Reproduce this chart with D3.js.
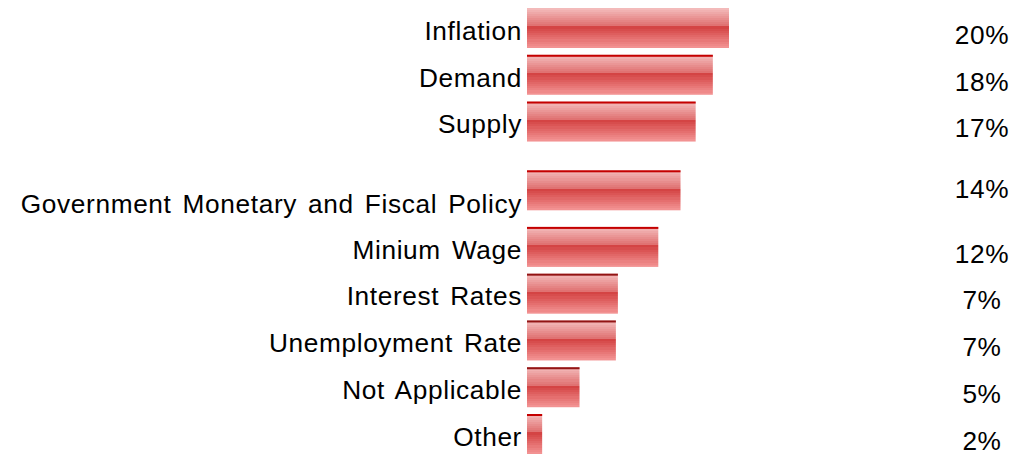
<!DOCTYPE html>
<html>
<head>
<meta charset="utf-8">
<script src="https://cdn.jsdelivr.net/npm/d3@7"></script>
<style>
  body { margin: 0; background: #fff; }
  text { font-family: "Liberation Sans", Arial, sans-serif; fill: #000; }
</style>
</head>
<body>
<div id="chart"></div>
<script>
const categories = ['Inflation', 'Demand', 'Supply', 'Government Monetary and Fiscal Policy',
   'Minium Wage', 'Interest Rates', 'Unemployment Rate', 'Not Applicable', 'Other']
// bar lengths (percent)
const barValues = [20, 18.4, 16.7, 15.2, 13.0, 9.0, 8.8, 5.2, 1.5]
// percent labels as printed
const pctLabels = ['20%', '18%', '17%', '14%', '12%', '7%', '7%', '5%', '2%']

const width = 1022, height = 455
const svg = d3.select('#chart').append('svg')
   .attr('width', width).attr('height', height)

// banded gradient like the original
const defs = svg.append('defs')
const grad = defs.append('linearGradient').attr('id', 'barGrad')
   .attr('x1', 0).attr('y1', 0).attr('x2', 0).attr('y2', 1)
const topC = d3.interpolateRgb('#f3baba', '#e07272')
const botC = d3.interpolateRgb('#d44444', '#f29292')
const nTop = 9, nBot = 10, split = 0.46
for (let k = 0; k < nTop; k++) {
   grad.append('stop').attr('offset', split * k / nTop).attr('stop-color', topC(k / (nTop - 1)))
   grad.append('stop').attr('offset', split * (k + 1) / nTop).attr('stop-color', topC(k / (nTop - 1)))
}
for (let k = 0; k < nBot; k++) {
   const a = split + (1 - split) * k / nBot, b = split + (1 - split) * (k + 1) / nBot
   grad.append('stop').attr('offset', a).attr('stop-color', botC(k / (nBot - 1)))
   grad.append('stop').attr('offset', b).attr('stop-color', botC(k / (nBot - 1)))
}

const x = d3.scaleLinear().domain([0, 20]).range([527, 729])
// rows sit on a 47px grid, the long label row takes extra room
const slot = i => i + (i >= 3 ? 0.47 : 0) + (i >= 4 ? 0.21 : 0)
const y = d3.scaleLinear().domain([0, slot(8)]).range([28, 434])
const barH = 40
const isWrapped = i => i === 3
const stretch = 1.05

const rows = svg.selectAll('g.row')
   .data(categories)
   .enter()
   .append('g')
   .attr('class', 'row')

rows.append('rect')
   .attr('x', x(0))
   .attr('y', (d, i) => y(slot(i)) - barH / 2)
   .attr('width', (d, i) => x(barValues[i]) - x(0))
   .attr('height', barH)
   .attr('fill', 'url(#barGrad)')

rows.filter((d, i) => i > 0)
   .append('rect')
   .attr('x', x(0))
   .attr('y', (d, i) => y(slot(i + 1)) - barH / 2)
   .attr('width', (d, i) => x(barValues[i + 1]) - x(0))
   .attr('height', 2)
   .attr('fill', (d, i) => (i + 1 >= 5 && i + 1 <= 7) ? '#921414' : '#c40000')

rows.append('text')
   .attr('transform', (d, i) => `translate(522,${y(slot(i)) + (isWrapped(i) ? 14 : 3)}) scale(${stretch},1)`)
   .attr('dy', '0.35em')
   .attr('text-anchor', 'end')
   .style('font-size', '25px')
   .style('letter-spacing', '0.6px')
   .style('word-spacing', '3px')
   .text(d => d)

rows.append('text')
   .attr('transform', (d, i) => `translate(982,${y(slot(i)) + (isWrapped(i) ? -1 : 7)}) scale(${stretch},1)`)
   .attr('dy', '0.35em')
   .attr('text-anchor', 'middle')
   .style('font-size', '25px')
   .style('letter-spacing', '0.6px')
   .text((d, i) => pctLabels[i])
</script>
</body>
</html>
